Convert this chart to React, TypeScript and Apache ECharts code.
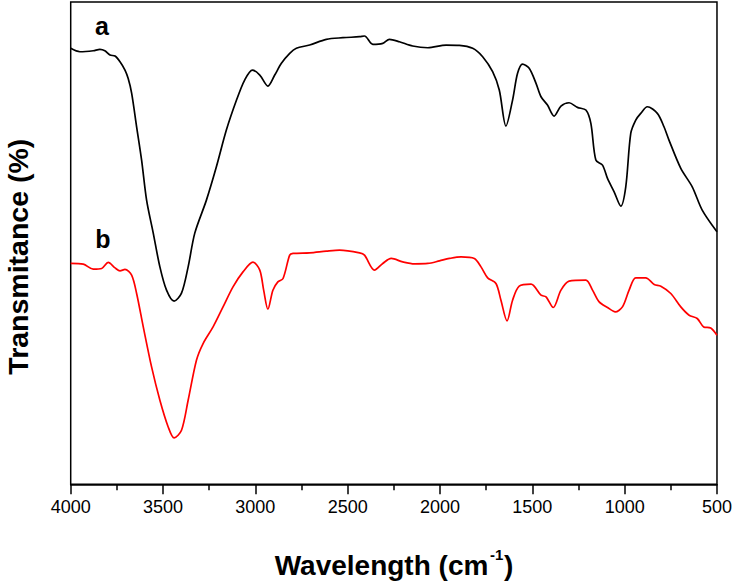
import React, { useEffect, useRef } from "react";
import * as echarts from "echarts";

// Wavenumber (cm-1) and transmittance (arbitrary units)
const aWave = [4000, 3950, 3878, 3842, 3815, 3787, 3760, 3733, 3706, 3689, 3670, 3643, 3616, 3589, 3553, 3517, 3481, 3440, 3400, 3364, 3328, 3265, 3211, 3157, 3102, 3058, 3016, 2976, 2932, 2895, 2859, 2814, 2778, 2706, 2616, 2526, 2436, 2409, 2364, 2310, 2274, 2220, 2148, 2066, 1967, 1895, 1823, 1769, 1715, 1679, 1643, 1607, 1580, 1553, 1517, 1480, 1453, 1418, 1382, 1345, 1301, 1256, 1210, 1183, 1156, 1120, 1093, 1057, 1021, 994, 967, 940, 913, 877, 823, 787, 760, 696, 634, 580, 500];
const aTrans = [435.7, 432.3, 433.3, 434.7, 433.3, 429, 428, 422.3, 414, 405.7, 391, 357.3, 324, 284, 251, 217.3, 194, 183, 191, 217.3, 251, 284, 317.3, 354, 384, 404, 414, 409, 398, 409, 420.7, 430.7, 435.7, 439, 444.7, 446.3, 447.3, 448, 439.7, 440.7, 444.7, 442.3, 438, 436.3, 439, 438.7, 435.7, 427.3, 412.3, 394, 358, 384, 410.7, 420, 415.7, 400.7, 387.3, 379, 368, 378, 381.3, 376.7, 374, 360.7, 324, 319, 305.7, 292.3, 278, 297.3, 350.7, 364, 370.7, 377.3, 370.7, 357.3, 344, 315.7, 297.3, 274, 252.3];

const bWave = [4000, 3932, 3878, 3832, 3797, 3760, 3733, 3706, 3670, 3643, 3607, 3562, 3517, 3472, 3440, 3400, 3364, 3319, 3283, 3229, 3175, 3121, 3067, 3013, 2976, 2955, 2932, 2905, 2878, 2850, 2814, 2796, 2706, 2616, 2544, 2436, 2409, 2355, 2310, 2264, 2202, 2138, 2066, 2003, 1949, 1886, 1814, 1778, 1742, 1697, 1670, 1637, 1607, 1571, 1507, 1453, 1426, 1387, 1345, 1301, 1210, 1174, 1138, 1093, 1051, 1012, 976, 940, 886, 840, 804, 750, 696, 651, 607, 572, 534, 500];
const bTrans = [220.7, 220, 215, 215.7, 221.7, 216.3, 213.3, 214.7, 209, 190.7, 157.3, 117.3, 84, 57.3, 46.3, 54, 84, 124, 140.7, 157.3, 177.3, 197.3, 212.3, 222, 214, 194, 175, 194, 202.3, 205.7, 229, 230.7, 231.3, 233, 234, 231.3, 229, 214, 220.7, 225.7, 222.3, 220.3, 220.7, 223.3, 225.7, 227.3, 225.7, 217.3, 206.3, 200.7, 184, 163.3, 184, 198, 200, 189, 187.3, 176.7, 194, 203, 204, 194, 182.3, 176.7, 172.3, 177.3, 194, 206.3, 206.3, 199.7, 198, 190.7, 177.3, 169, 165.7, 157.3, 156.3, 149];

const xTicks = { min: 500, max: 4000, interval: 500 };

export default function App() {
  const ref = useRef<HTMLDivElement>(null);
  useEffect(() => {
    document.body.style.margin = "0";
    const chart = echarts.init(ref.current!, null, { renderer: "svg" });
    const font = "'Liberation Sans', Arial, sans-serif";
    chart.setOption({
      animation: false,
      backgroundColor: "#fff",
      grid: {
        left: 70.7,
        right: 16.3,
        top: 2,
        bottom: 96.7,
        show: true,
        borderColor: "#000",
        borderWidth: 1.5,
      },
      xAxis: {
        type: "value",
        min: xTicks.min,
        max: xTicks.max,
        interval: xTicks.interval,
        inverse: true,
        axisLine: { show: true, lineStyle: { color: "#000", width: 1.5 } },
        axisTick: { show: true, inside: false, length: 10, lineStyle: { color: "#000", width: 1.5 } },
        minorTick: { show: true, splitNumber: 2, length: 6, lineStyle: { color: "#000", width: 1.5 } },
        splitLine: { show: false },
        minorSplitLine: { show: false },
        axisLabel: {
          fontSize: 18,
          color: "#000",
          fontFamily: font,
          margin: 14,
          formatter: (v: number) => String(v),
        },
      },
      yAxis: {
        type: "value",
        min: 0,
        max: 482,
        axisLine: { show: false },
        axisTick: { show: false },
        axisLabel: { show: false },
        splitLine: { show: false },
      },
      series: [
        {
          name: "a",
          type: "line",
          data: aWave.map((w, i) => [w, aTrans[i]]),
          showSymbol: false,
          smooth: 0.3,
          lineStyle: { color: "#000", width: 1.7 },
        },
        {
          name: "b",
          type: "line",
          data: bWave.map((w, i) => [w, bTrans[i]]),
          showSymbol: false,
          smooth: 0.3,
          lineStyle: { color: "#ff0000", width: 1.7 },
        },
      ],
      graphic: [
        {
          type: "text",
          x: 102,
          y: 38.5,
          style: { text: "a", font: `bold 25px ${font}`, fill: "#000", align: "center", verticalAlign: "bottom" },
        },
        {
          type: "text",
          x: 103,
          y: 251,
          style: { text: "b", font: `bold 25px ${font}`, fill: "#000", align: "center", verticalAlign: "bottom" },
        },
        {
          type: "text",
          x: 18.3,
          y: 256.7,
          rotation: Math.PI / 2,
          style: { text: "Transmitance (%)", font: `bold 28.5px ${font}`, fill: "#000", align: "center", verticalAlign: "middle" },
        },
        {
          type: "text",
          x: 274.7,
          y: 565,
          style: { text: "Wavelength (cm", font: `bold 28px ${font}`, fill: "#000", align: "left", verticalAlign: "middle" },
        },
        {
          type: "text",
          x: 490,
          y: 554,
          style: { text: "-1", font: `bold 15px ${font}`, fill: "#000", align: "left", verticalAlign: "middle" },
        },
        {
          type: "text",
          x: 504,
          y: 565,
          style: { text: ")", font: `bold 28px ${font}`, fill: "#000", align: "left", verticalAlign: "middle" },
        },
      ],
    });
    return () => chart.dispose();
  }, []);
  return <div ref={ref} style={{ width: 735, height: 581 }} />;
}
